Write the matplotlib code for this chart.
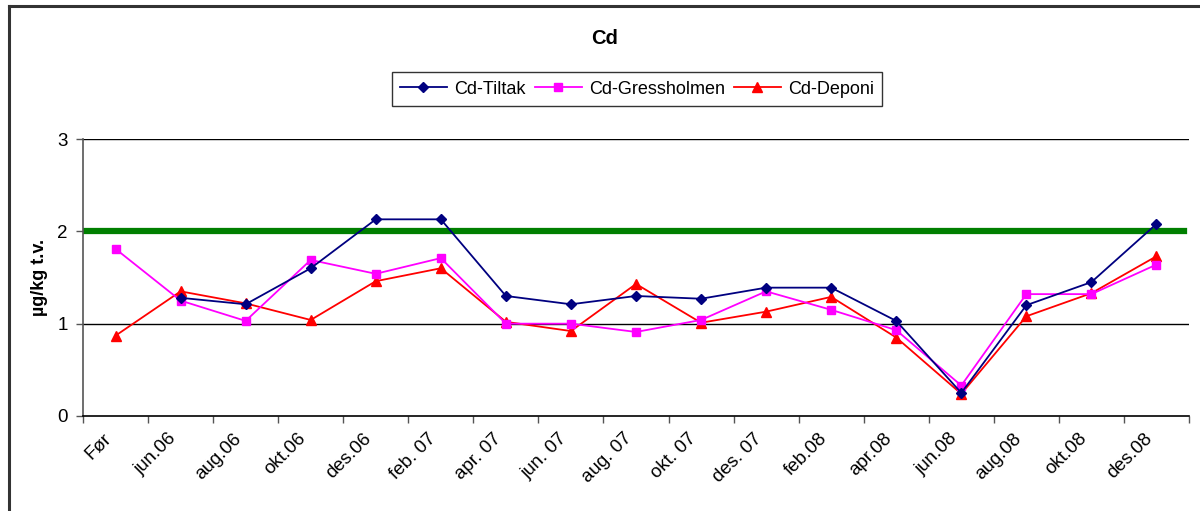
import matplotlib.pyplot as plt
import matplotlib.lines as mlines
import numpy as np

plt.rcParams['font.family'] = ['Liberation Sans', 'DejaVu Sans']

months = ['Før', 'jun.06', 'aug.06', 'okt.06', 'des.06', 'feb. 07', 'apr. 07',
          'jun. 07', 'aug. 07', 'okt. 07', 'des. 07', 'feb.08', 'apr.08',
          'jun.08', 'aug.08', 'okt.08', 'des.08']
tiltak = [np.nan, 1.28, 1.21, 1.60, 2.13, 2.13, 1.30, 1.21, 1.30, 1.27,
          1.39, 1.39, 1.03, 0.25, 1.20, 1.45, 2.08]
gressholmen = [1.81, 1.25, 1.03, 1.69, 1.54, 1.71, 1.00, 1.00, 0.91, 1.04,
               1.35, 1.15, 0.93, 0.33, 1.32, 1.32, 1.64]
deponi = [0.87, 1.35, 1.22, 1.04, 1.46, 1.60, 1.02, 0.92, 1.43, 1.01,
          1.13, 1.29, 0.85, 0.24, 1.08, 1.33, 1.73]
grense = 2

fig = plt.figure(figsize=(12, 5.11), dpi=100)
ax = fig.add_axes([83/1200, 1-416/511, (1189-83)/1200, (416-139)/511])

x = np.arange(len(months))
ax.axhline(grense, xmin=0, xmax=(1184-83)/(1189-83), color='#007f00', lw=4.5, zorder=2)
for y in [1, 3]:
    ax.axhline(y, color='black', lw=1, zorder=1)

ax.plot(x, tiltak, color='#000080', lw=1.3, marker='D', ms=5.5, label='Cd-Tiltak', zorder=5)
ax.plot(x, gressholmen, color='#ff00ff', lw=1.3, marker='s', ms=5.5, label='Cd-Gressholmen', zorder=4)
ax.plot(x, deponi, color='#ff0000', lw=1.3, marker='^', ms=7, label='Cd-Deponi', zorder=3)

ax.set_xlim(-0.5, len(months) - 0.5)
ax.set_ylim(0, 3)
ax.set_yticks([0, 1, 2, 3])
ax.tick_params(axis='y', labelsize=13.5, length=5, width=1, color='#555555', pad=6)
ax.set_xticks(np.arange(len(months) + 1) - 0.5)
ax.set_xticklabels([])
ax.tick_params(axis='x', length=5, width=1, color='#555555')
for i, m in enumerate(months):
    ax.text(i - 0.2, -0.15, m, rotation=45, ha='right', va='top',
            rotation_mode='anchor', fontsize=13.5, transform=ax.transData)

for s in ['top', 'right']:
    ax.spines[s].set_visible(False)
for s in ['left', 'bottom']:
    ax.spines[s].set_color('#555555')
    ax.spines[s].set_linewidth(1.2)
ax.spines['bottom'].set_color('black')

ax.set_ylabel('µg/kg t.v.', fontsize=13, fontweight='bold', labelpad=7)

fig.text(605/1200, 1-38/511, 'Cd', fontsize=14.5, fontweight='bold', ha='center', va='center')

leg = fig.legend(loc='center', bbox_to_anchor=(637/1200, 1-89/511), ncol=3,
                 fontsize=13, frameon=True, fancybox=False, shadow=False,
                 handlelength=2.6, columnspacing=0.5, handletextpad=0.4,
                 borderpad=0.45, borderaxespad=0)
leg.get_frame().set_edgecolor('black')
leg.get_frame().set_linewidth(1)

fig.add_artist(mlines.Line2D([8.5/1200, 8.5/1200], [0, 1-6.5/511], color='#333333', lw=2.2))
fig.add_artist(mlines.Line2D([8.5/1200, 1], [1-6.5/511, 1-6.5/511], color='#333333', lw=2.2))

fig.savefig('out.png', dpi=100)
